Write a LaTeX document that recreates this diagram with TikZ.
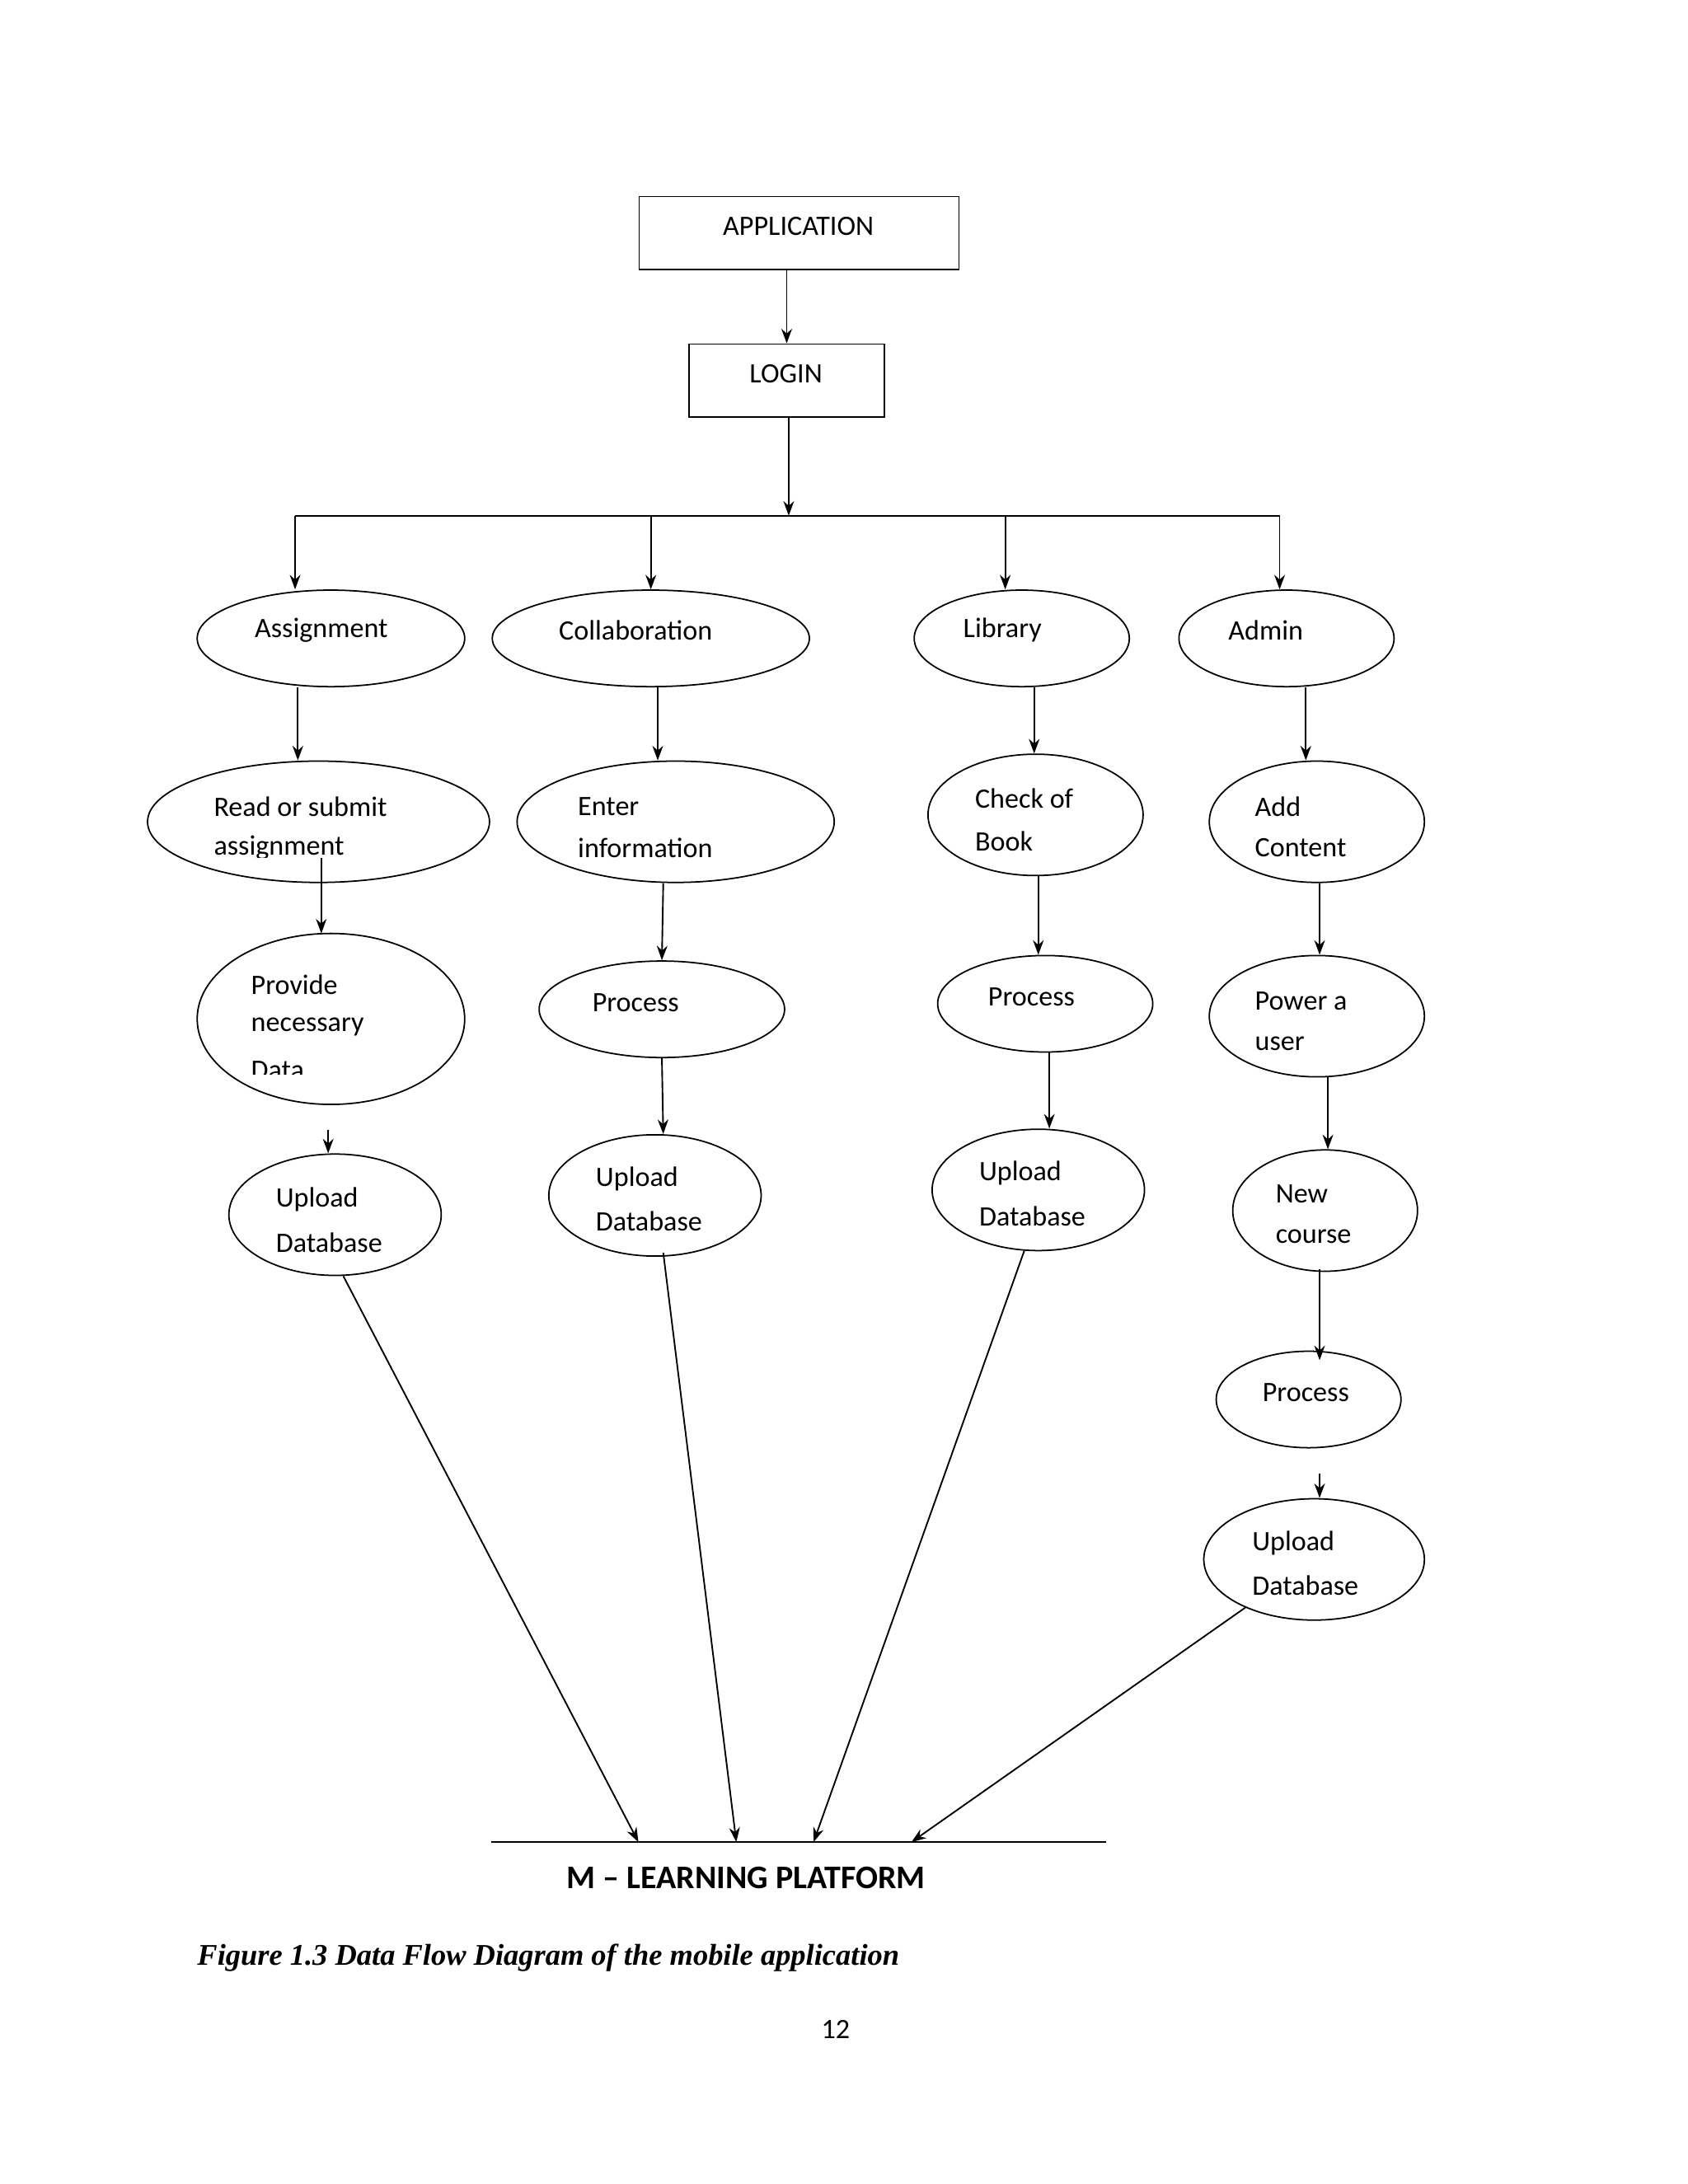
\documentclass[tikz,border=0pt]{standalone}
\usepackage{fontspec}
\setmainfont{Carlito}
\newfontfamily\capfont{Liberation Serif}
\usetikzlibrary{shapes.geometric,arrows.meta}
\begin{document}
\begin{tikzpicture}[x=0.05cm,y=-0.05cm,
  every node/.style={font=\fontsize{29}{35}\selectfont},
  box/.style={draw,line width=1.5pt,inner sep=0,anchor=north west},
  el/.style 2 args={draw,ellipse,line width=1.5pt,inner sep=0,minimum width=#1*0.1cm,minimum height=#2*0.1cm},
  txt/.style={anchor=west,inner sep=0},
  arr/.style={line width=1.6pt,-{Stealth[length=15pt,width=11pt]}},
  ln/.style={line width=1.6pt}]
\useasboundingbox (0,0) rectangle (1224,1584);
% boxes
\node[box,minimum width=232*0.05cm,minimum height=53*0.05cm] (app) at (463,142) {};
\node (appt) at (579,164) {APPLICATION};
\node[box,minimum width=142*0.05cm,minimum height=53*0.05cm] (login) at (499,249) {};
\node (logint) at (570,271) {LOGIN};
\coordinate (j) at (572,374);
\coordinate (l1) at (214,374);
\coordinate (l4) at (928,374);
% ellipses
\node[el={97}{35}] (assign) at (240,463) {};
\node[el={115}{35}] (collab) at (472,463) {};
\node[el={78}{35}] (lib) at (741,463) {};
\node[el={78}{35}] (admin) at (933,463) {};
\node[el={124}{44}] (read) at (231,596) {};
\node[el={115}{44}] (enter) at (490,596) {};
\node[el={78}{44}] (check) at (751,591) {};
\node[el={78}{44}] (add) at (955,596) {};
\node[el={97}{62}] (prov) at (240,739) {};
\node[el={89}{35}] (proc1) at (480,732) {};
\node[el={78}{35}] (proc2) at (758,728) {};
\node[el={78}{44}] (power) at (955,737) {};
\node[el={77}{44}] (up1) at (243,881) {};
\node[el={77}{44}] (up2) at (475,867) {};
\node[el={77}{44}] (up3) at (753,863) {};
\node[el={67}{44}] (newc) at (961,878) {};
\node[el={67}{35}] (proc3) at (949,1015) {};
\node[el={80}{44}] (up4) at (953,1131) {};
% texts
\node (t1) at (233,457) {Assignment};
\node (t2) at (461,457) {Collaboration};
\node (t3) at (727,457) {Library};
\node (t4) at (918,457) {Admin};
\begin{scope}
\clip (100,560) rectangle (360,622);
\node[txt] (t5) at (155,585) {Read or submit};
\node[txt] (t5b) at (155,615) {assignment};
\end{scope}
\node[txt] (t6) at (419,585) {Enter};
\node[txt] (t6b) at (419,615) {information};
\node[txt] (t7) at (707,579) {Check of};
\node[txt] (t7b) at (707,610) {Book};
\node[txt] (t8) at (910,585) {Add};
\node[txt] (t8b) at (910,615) {Content};
\begin{scope}
\clip (140,690) rectangle (340,779);
\node[txt] (t9) at (182,714) {Provide};
\node[txt] (t9b) at (182,745) {necessary};
\node[txt] (t9c) at (182,776) {Data};
\end{scope}
\node (t10) at (461,727) {Process};
\node (t11) at (748,723) {Process};
\node[txt] (t12) at (910,726) {Power a};
\node[txt] (t12b) at (910,757) {user};
\node[txt] (t13) at (200,870) {Upload};
\node[txt] (t13b) at (200,901) {Database};
\node[txt] (t14) at (432,855) {Upload};
\node[txt] (t14b) at (432,886) {Database};
\node[txt] (t15) at (710,851) {Upload};
\node[txt] (t15b) at (710,882) {Database};
\node[txt] (t16) at (925,866) {New};
\node[txt] (t16b) at (925,897) {course};
\node (t17) at (947,1010) {Process};
\node[txt] (t18) at (908,1119) {Upload};
\node[txt] (t18b) at (908,1150) {Database};
% connectors
\draw[arr] (app.south -| login.north) -- (login.north);
\draw[arr] (login.south -| j) -- (j);
\draw[ln] (l1) -- (l4);
\draw[arr] (l1) -- (l1 |- assign.north);
\draw[arr] (collab.north |- j) -- (collab.north);
\draw[arr] (lib.north -| 729,0) ++(0,-54) -- ++(0,54);
\draw[arr] (l4) -- (l4 |- admin.north);
\draw[arr] ([xshift=-24*0.05cm]assign.south) -- ([xshift=-24*0.05cm]assign.south |- read.north);
\draw[arr] ([xshift=5*0.05cm]collab.south) -- ([xshift=5*0.05cm]collab.south |- enter.north);
\draw[arr] ([xshift=9*0.05cm]lib.south) -- ([xshift=9*0.05cm]lib.south |- check.north);
\draw[arr] ([xshift=14*0.05cm]admin.south) -- ([xshift=14*0.05cm]admin.south |- add.north);
\draw[arr] (prov.north |- 0,622) ++(-7,0) -- ++(0,55);
\draw[arr] ([xshift=-9*0.05cm]enter.south) -- (proc1.north);
\draw[arr] ([xshift=2*0.05cm]check.south) -- ([xshift=-5*0.05cm]proc2.north);
\draw[arr] ([xshift=2*0.05cm]add.south) -- ([xshift=2*0.05cm]power.north);
\draw[arr] ([xshift=-2*0.05cm,yshift=-18*0.05cm]prov.south) -- ([xshift=-5*0.05cm]up1.north);
\draw[arr] (proc1.south) -- ([xshift=6*0.05cm]up2.north);
\draw[arr] ([xshift=3*0.05cm]proc2.south) -- ([xshift=8*0.05cm]up3.north);
\draw[arr] ([xshift=8*0.05cm]power.south) -- ([xshift=2*0.05cm]newc.north);
\draw[arr] ([xshift=-4*0.05cm,yshift=2*0.05cm]newc.south) -- ([xshift=8*0.05cm,yshift=-7*0.05cm]proc3.north);
\draw[arr] ([xshift=8*0.05cm,yshift=-18*0.05cm]proc3.south) -- ([xshift=4*0.05cm]up4.north);
% platform
\coordinate (pa) at (356,1336);
\coordinate (pb) at (802,1336);
\coordinate (e1) at (463,1336);
\coordinate (e2) at (534,1336);
\coordinate (e3) at (590,1336);
\coordinate (e4) at (661,1336);
\draw[ln] (pa) -- (pb);
\draw[arr] ([xshift=6*0.05cm]up1.south) -- (e1);
\draw[arr] ([xshift=6*0.05cm,yshift=3*0.05cm]up2.south) -- (e2);
\draw[arr] (up3.-103) -- (e3);
\draw[arr] (up4.215) -- (e4);
\node[font=\fontsize{34}{40}\selectfont\bfseries] (title) at (541,1362) {M – LEARNING PLATFORM};
\node[anchor=west,inner sep=0,font=\fontsize{31}{37}\selectfont\capfont\bfseries\itshape] (cap) at (143,1420) {Figure 1.3 Data Flow Diagram of the mobile application};
\node (pg) at (606,1472) {12};
\end{tikzpicture}
\end{document}
